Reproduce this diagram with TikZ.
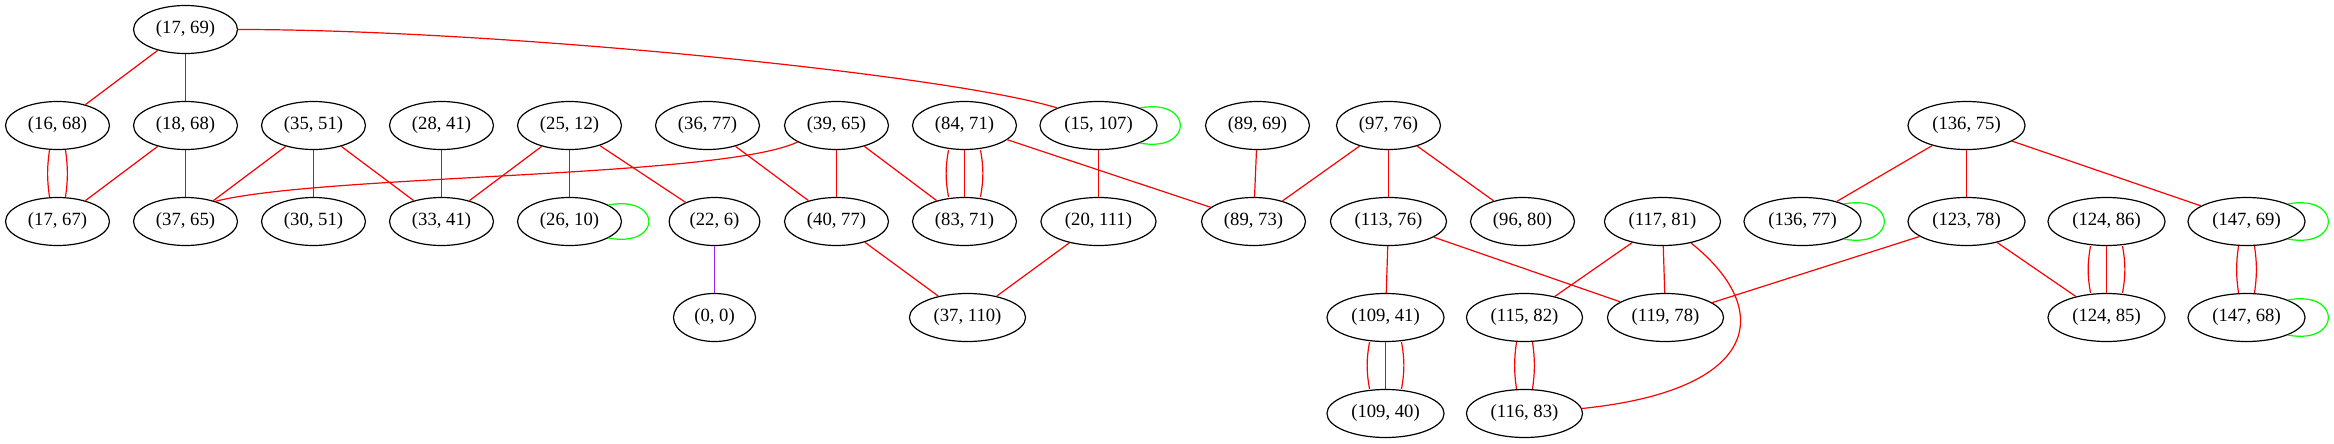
\documentclass[tikz,border=0pt]{standalone}
\usepackage{fontspec}
\setmainfont{Liberation Serif}
\usetikzlibrary{shapes.geometric}

\definecolor{gvred}{RGB}{255,0,0}
\definecolor{gvgreen}{RGB}{0,255,0}
\definecolor{gvpurple}{RGB}{160,32,240}

\tikzset{VertexStyle/.style={draw, ellipse, line width=0.9pt, inner xsep=5.4pt, inner ysep=2pt,
                             minimum height=36pt, minimum width=61.5pt,
                             font=\fontsize{14}{16}\selectfont}}
\tikzset{EdgeStyle/.style={draw=gvred, line width=0.9pt}}
\tikzset{LoopStyle/.style={draw=gvgreen, line width=0.9pt}}
\tikzset{LeafEdge/.style={draw=gvpurple, line width=0.8pt}}

\begin{document}
\begin{tikzpicture}[x=0.75pt, y=-0.75pt]
\useasboundingbox (0,0) rectangle (2334,443);
\begin{scope}[shift={(0.5,0.5)}]
% rank 1
\node[VertexStyle] (n1769) at (185,29) {(17, 69)};
% rank 2
\node[VertexStyle] (n1668) at (57,125) {(16, 68)};
\node[VertexStyle] (n1868) at (185,125) {(18, 68)};
\node[VertexStyle] (n3551) at (313,125) {(35, 51)};
\node[VertexStyle] (n2841) at (441,125) {(28, 41)};
\node[VertexStyle] (n2512) at (569,125) {(25, 12)};
\node[VertexStyle] (n3677) at (707,125) {(36, 77)};
\node[VertexStyle] (n3965) at (836,125) {(39, 65)};
\node[VertexStyle] (n8471) at (964,125) {(84, 71)};
\node[VertexStyle] (n15107) at (1098,125) {(15, 107)};
\node[VertexStyle] (n8969) at (1257,125) {(89, 69)};
\node[VertexStyle] (n9776) at (1388,125) {(97, 76)};
\node[VertexStyle] (n13675) at (1966,125) {(136, 75)};
% rank 3
\node[VertexStyle] (n1767) at (57,221) {(17, 67)};
\node[VertexStyle] (n3765) at (185,221) {(37, 65)};
\node[VertexStyle] (n3051) at (313,221) {(30, 51)};
\node[VertexStyle] (n3341) at (441,221) {(33, 41)};
\node[VertexStyle] (n2610) at (569,221) {(26, 10)};
\node[VertexStyle] (n226) at (714,221) {(22, 6)};
\node[VertexStyle] (n4077) at (836,221) {(40, 77)};
\node[VertexStyle] (n8371) at (964,221) {(83, 71)};
\node[VertexStyle] (n20111) at (1098,221) {(20, 111)};
\node[VertexStyle] (n8973) at (1253,221) {(89, 73)};
\node[VertexStyle] (n11376) at (1388,221) {(113, 76)};
\node[VertexStyle] (n9680) at (1522,221) {(96, 80)};
\node[VertexStyle] (n11781) at (1662,221) {(117, 81)};
\node[VertexStyle] (n13677) at (1802,221) {(136, 77)};
\node[VertexStyle] (n12378) at (1966,221) {(123, 78)};
\node[VertexStyle] (n12486) at (2106,221) {(124, 86)};
\node[VertexStyle] (n14769) at (2246,221) {(147, 69)};
% rank 4
\node[VertexStyle] (n00) at (714,317) {(0, 0)};
\node[VertexStyle] (n37110) at (967,317) {(37, 110)};
\node[VertexStyle] (n10941) at (1385,317) {(109, 41)};
\node[VertexStyle] (n11582) at (1524,317) {(115, 82)};
\node[VertexStyle] (n11978) at (1665,317) {(119, 78)};
\node[VertexStyle] (n12485) at (2106,317) {(124, 85)};
\node[VertexStyle] (n14768) at (2246,317) {(147, 68)};
% rank 5
\node[VertexStyle] (n10940) at (1385,413) {(109, 40)};
\node[VertexStyle] (n11683) at (1524,413) {(116, 83)};

% edges
\draw[EdgeStyle] (n1769) -- (n1668);
\draw[EdgeStyle] (n1769) -- (n1868);
\draw[EdgeStyle] (n1769.east) .. controls +(263,0) and +(-107,-33) .. (n15107.157);
\draw[EdgeStyle] ([xshift=-6pt]n1668.south) to[bend right=8] ([xshift=-6pt]n1767.north);
\draw[EdgeStyle] ([xshift=6pt]n1668.south) to[bend left=8] ([xshift=6pt]n1767.north);
\draw[EdgeStyle] (n1868) -- (n1767);
\draw[EdgeStyle] (n1868) -- (n3765);
\draw[EdgeStyle] (n3551) -- (n3765);
\draw[EdgeStyle] (n3551) -- (n3051);
\draw[EdgeStyle] (n3551) -- (n3341);
\draw[EdgeStyle] (n2841) -- (n3341);
\draw[EdgeStyle] (n2512) -- (n3341);
\draw[EdgeStyle] (n2512) -- (n2610);
\draw[EdgeStyle] (n2512) -- (n226);
\draw[LeafEdge] (n226) -- (n00);
\draw[EdgeStyle] (n3677) -- (n4077);
\draw[EdgeStyle] (n3965.203) .. controls +(-77,36) and +(107,-27) .. (n3765.34);
\draw[EdgeStyle] (n3965) -- (n4077);
\draw[EdgeStyle] (n3965) -- (n8371);
\draw[EdgeStyle] ([xshift=-12pt]n8471.south) to[bend right=10] ([xshift=-12pt]n8371.north);
\draw[EdgeStyle] (n8471) -- (n8371);
\draw[EdgeStyle] ([xshift=12pt]n8471.south) to[bend left=10] ([xshift=12pt]n8371.north);
\draw[EdgeStyle] (n8471) -- (n8973);
\draw[EdgeStyle] (n15107) -- (n20111);
\draw[EdgeStyle] (n4077) -- (n37110);
\draw[EdgeStyle] (n20111) -- (n37110);
\draw[EdgeStyle] (n8969) -- (n8973);
\draw[EdgeStyle] (n9776) -- (n8973);
\draw[EdgeStyle] (n9776) -- (n11376);
\draw[EdgeStyle] (n9776) -- (n9680);
\draw[EdgeStyle] (n11376) -- (n10941);
\draw[EdgeStyle] (n11376) -- (n11978);
\draw[EdgeStyle] ([xshift=-12pt]n10941.south) to[bend right=10] ([xshift=-12pt]n10940.north);
\draw[EdgeStyle] (n10941) -- (n10940);
\draw[EdgeStyle] ([xshift=12pt]n10941.south) to[bend left=10] ([xshift=12pt]n10940.north);
\draw[EdgeStyle] (n11781) -- (n11582);
\draw[EdgeStyle] (n11781) -- (n11978);
\draw[EdgeStyle] (n11781.323) .. controls +(85,68) and +(177,-18) .. (n11683.5);
\draw[EdgeStyle] ([xshift=-6pt]n11582.south) to[bend right=8] ([xshift=-6pt]n11683.north);
\draw[EdgeStyle] ([xshift=6pt]n11582.south) to[bend left=8] ([xshift=6pt]n11683.north);
\draw[EdgeStyle] (n13675) -- (n13677);
\draw[EdgeStyle] (n13675) -- (n12378);
\draw[EdgeStyle] (n13675) -- (n14769);
\draw[EdgeStyle] (n12378) -- (n11978);
\draw[EdgeStyle] (n12378) -- (n12485);
\draw[EdgeStyle] ([xshift=-12pt]n12486.south) to[bend right=10] ([xshift=-12pt]n12485.north);
\draw[EdgeStyle] (n12486) -- (n12485);
\draw[EdgeStyle] ([xshift=12pt]n12486.south) to[bend left=10] ([xshift=12pt]n12485.north);
\draw[EdgeStyle] ([xshift=-6pt]n14769.south) to[bend right=8] ([xshift=-6pt]n14768.north);
\draw[EdgeStyle] ([xshift=6pt]n14769.south) to[bend left=8] ([xshift=6pt]n14768.north);

% self loops
\draw[LoopStyle] (n2610.23) .. controls +(54,-10) and +(54,10) .. (n2610.-23);
\draw[LoopStyle] (n15107.23) .. controls +(54,-10) and +(54,10) .. (n15107.-23);
\draw[LoopStyle] (n13677.23) .. controls +(54,-10) and +(54,10) .. (n13677.-23);
\draw[LoopStyle] (n14769.23) .. controls +(54,-10) and +(54,10) .. (n14769.-23);
\draw[LoopStyle] (n14768.23) .. controls +(54,-10) and +(54,10) .. (n14768.-23);
\end{scope}
\end{tikzpicture}
\end{document}
